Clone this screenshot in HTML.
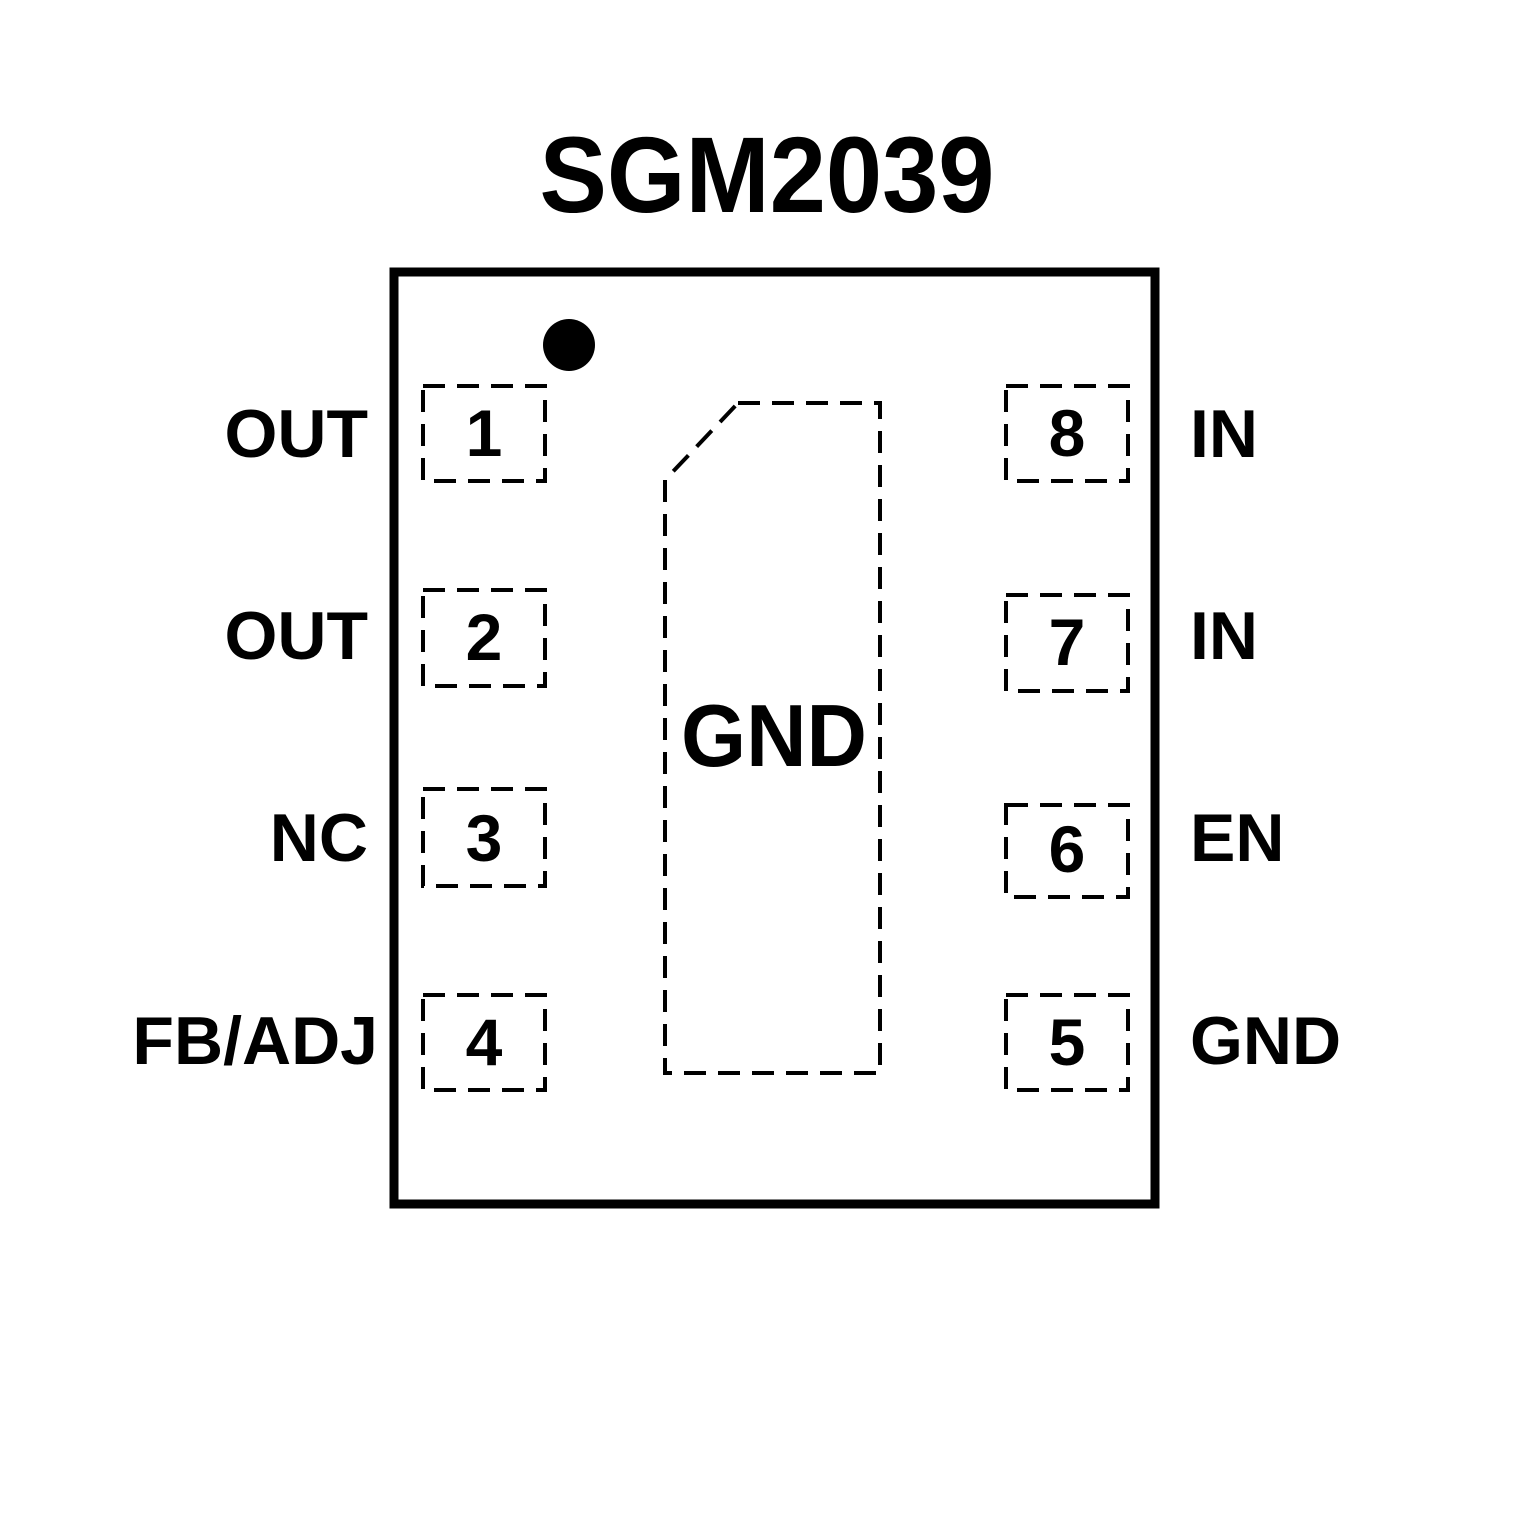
<!DOCTYPE html>
<html><head><meta charset="utf-8"><style>html,body{margin:0;padding:0;background:#fff}</style></head>
<body>
<svg width="1535" height="1535" viewBox="0 0 1535 1535" xmlns="http://www.w3.org/2000/svg" font-family="Liberation Sans, Arial, sans-serif" font-weight="bold">
<rect width="1535" height="1535" fill="#fff"/>
<text x="767" y="212" font-size="108" text-anchor="middle" textLength="455" lengthAdjust="spacingAndGlyphs">SGM2039</text>
<rect x="394" y="272" width="761" height="932" fill="none" stroke="#000" stroke-width="9"/>
<circle cx="569" cy="345" r="26" fill="#000"/>
<g fill="none" stroke="#000" stroke-width="4" stroke-dasharray="22 12">
<rect x="423" y="386" width="122" height="95"/>
<rect x="423" y="590" width="122" height="96"/>
<rect x="423" y="789" width="122" height="97"/>
<rect x="423" y="995" width="122" height="95"/>
<rect x="1006" y="386" width="122" height="95"/>
<rect x="1006" y="595" width="122" height="96"/>
<rect x="1006" y="805" width="122" height="92"/>
<rect x="1006" y="995" width="122" height="95"/>
<polygon points="738,403 880,403 880,1073 665,1073 665,480"/>
</g>
<g font-size="66" text-anchor="middle">
<text x="484" y="456">1</text>
<text x="484" y="660">2</text>
<text x="484" y="861">3</text>
<text x="484" y="1065">4</text>
<text x="1067" y="1065">5</text>
<text x="1067" y="872">6</text>
<text x="1067" y="665">7</text>
<text x="1067" y="456">8</text>
</g>
<g font-size="68" text-anchor="end">
<text x="368" y="457">OUT</text>
<text x="368" y="659">OUT</text>
<text x="368" y="861">NC</text>
<text x="378" y="1064">FB/ADJ</text>
</g>
<g font-size="68">
<text x="1190" y="457">IN</text>
<text x="1190" y="659">IN</text>
<text x="1190" y="861">EN</text>
<text x="1190" y="1064">GND</text>
</g>
<text x="774" y="766" font-size="88" text-anchor="middle" textLength="186" lengthAdjust="spacingAndGlyphs">GND</text>
</svg>
</body></html>
